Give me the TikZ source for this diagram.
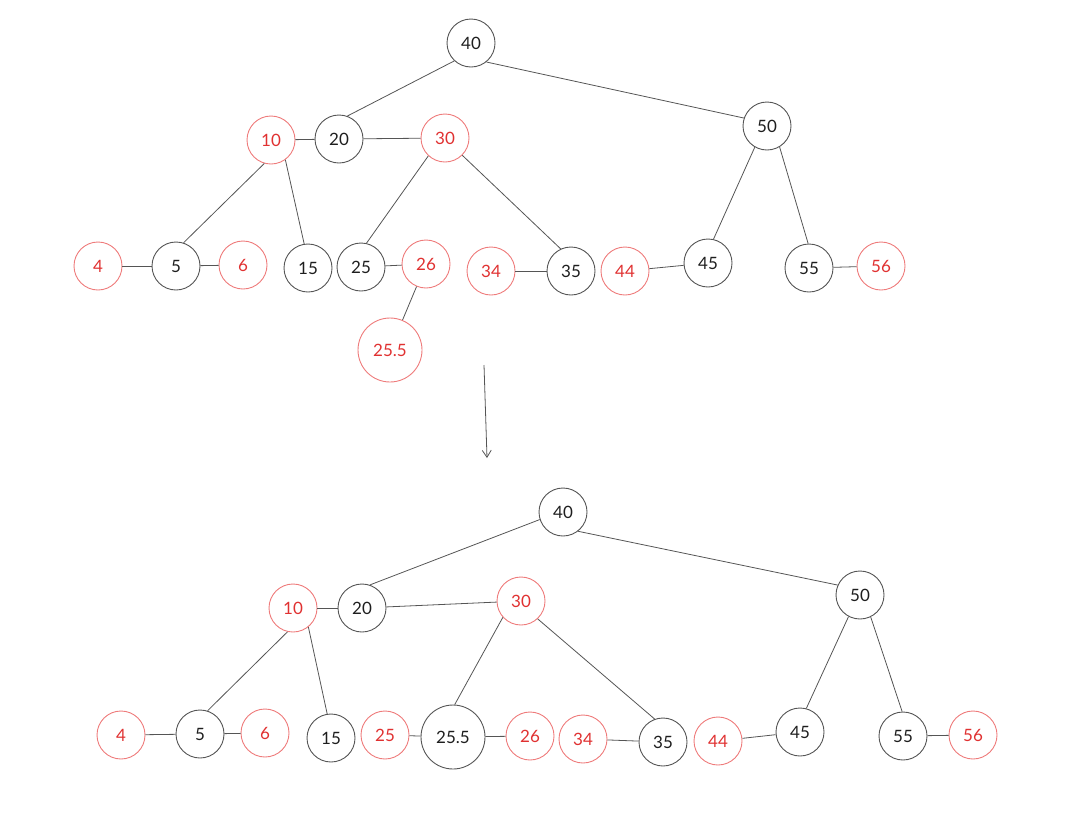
\documentclass[tikz,border=0pt]{standalone}
\usepackage{fontspec}
\setmainfont{Lato}
\usetikzlibrary{arrows.meta}
\definecolor{ink}{HTML}{1E1E1E}
\definecolor{edgec}{HTML}{555555}
\definecolor{redt}{HTML}{E03131}
\definecolor{redc}{HTML}{EE7B7B}
\tikzset{
  blk/.style={circle,draw=edgec,line width=0.9pt,minimum size=48pt,inner sep=0pt,text=ink,font=\fontsize{17}{20}\selectfont},
  rd/.style={circle,draw=redc,line width=0.9pt,minimum size=48pt,inner sep=0pt,text=redt,font=\fontsize{17}{20}\selectfont},
  big/.style={minimum size=64pt},
  edge/.style={draw=edgec,line width=0.8pt}
}
\begin{document}
\begin{tikzpicture}[x=1pt,y=-1pt]
\useasboundingbox (0,0) rectangle (1076,820);
% ---------- top tree ----------
\node[blk] (a40) at (471,43) {40};
\node[blk] (a20) at (339,139) {20};
\node[rd]  (a10) at (271,140) {10};
\node[rd]  (a30) at (445,138) {30};
\node[blk] (a50) at (767,126) {50};
\node[rd]  (a4) at (98,266) {4};
\node[blk] (a5) at (176,266) {5};
\node[rd]  (a6) at (243,265) {6};
\node[blk] (a15) at (308,268) {15};
\node[blk] (a25) at (361,267) {25};
\node[rd]  (a26) at (426,264) {26};
\node[rd,big] (a255) at (390,350) {25.5};
\node[rd]  (a34) at (491,271) {34};
\node[blk] (a35) at (571,271) {35};
\node[rd]  (a44) at (625,271) {44};
\node[blk] (a45) at (708,263) {45};
\node[blk] (a55) at (809,268) {55};
\node[rd]  (a56) at (881,266) {56};
\draw[edge] (a40.-133) -- (a20.70);
\draw[edge] (a40.-51) -- (a50.161);
\draw[edge] (a10) -- (a20);
\draw[edge] (a20) -- (a30);
\draw[edge] (a10.-106) -- (a5.72);
\draw[edge] (a10.-54) -- (a15.99);
\draw[edge] (a30.-133) -- (a25.77);
\draw[edge] (a30.-45) -- (a35.115);
\draw[edge] (a50.-120) -- (a45.77);
\draw[edge] (a50.-59) -- (a55.92);
\draw[edge] (a4) -- (a5);
\draw[edge] (a5) -- (a6);
\draw[edge] (a25) -- (a26);
\draw[edge] (a26) -- (a255);
\draw[edge] (a34) -- (a35);
\draw[edge] (a44) -- (a45);
\draw[edge] (a55) -- (a56);
% ---------- arrow ----------
\coordinate (p1) at (484,365);
\coordinate (p2) at (487,458);
\draw[edge,-{Straight Barb[length=7pt,width=9pt]}] (p1) -- (p2);
% ---------- bottom tree ----------
\node[blk] (b40) at (563,512) {40};
\node[blk] (b20) at (362,608) {20};
\node[rd]  (b10) at (293,608) {10};
\node[rd]  (b30) at (521,601) {30};
\node[blk] (b50) at (860,595) {50};
\node[rd]  (b4) at (121,735) {4};
\node[blk] (b5) at (200,734) {5};
\node[rd]  (b6) at (265,733) {6};
\node[blk] (b15) at (331,738) {15};
\node[rd]  (b25) at (385,735) {25};
\node[blk,big] (b255) at (453,737) {25.5};
\node[rd]  (b26) at (530,736) {26};
\node[rd]  (b34) at (583,739) {34};
\node[blk] (b35) at (663,742) {35};
\node[rd]  (b44) at (718,741) {44};
\node[blk] (b45) at (800,732) {45};
\node[blk] (b55) at (903,736) {55};
\node[rd]  (b56) at (973,735) {56};
\draw[edge] (b40.-162) -- (b20.71);
\draw[edge] (b40.-52) -- (b50.156);
\draw[edge] (b10) -- (b20);
\draw[edge] (b20) -- (b30);
\draw[edge] (b10.-103) -- (b5.72);
\draw[edge] (b10.-51) -- (b15.99);
\draw[edge] (b30.-138) -- (b255.87);
\draw[edge] (b30.-47) -- (b35.110);
\draw[edge] (b50.-118) -- (b45.75);
\draw[edge] (b50.-64) -- (b55.92);
\draw[edge] (b4) -- (b5);
\draw[edge] (b5) -- (b6);
\draw[edge] (b25) -- (b255);
\draw[edge] (b255) -- (b26);
\draw[edge] (b34) -- (b35);
\draw[edge] (b44) -- (b45);
\draw[edge] (b55) -- (b56);
\end{tikzpicture}
\end{document}
